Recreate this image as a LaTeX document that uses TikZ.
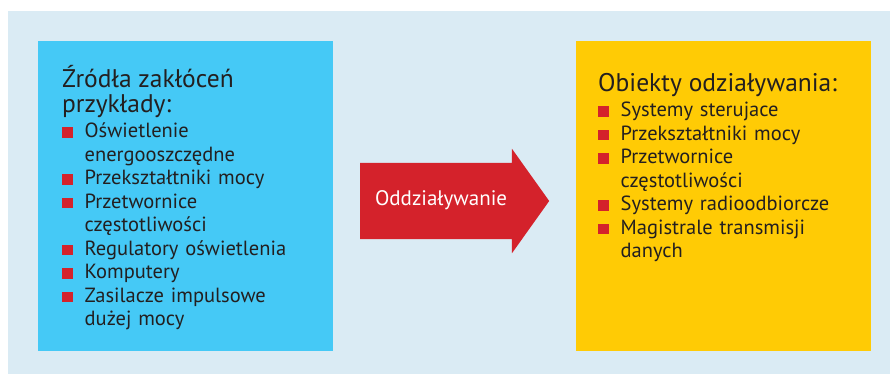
\documentclass[tikz,border=0pt]{standalone}
\usepackage{fontspec}
\setmainfont{PT Sans}
\usetikzlibrary{positioning,shapes.arrows}
\definecolor{panelbg}{HTML}{DAEBF4}
\definecolor{srccyan}{HTML}{45C9F6}
\definecolor{objyellow}{HTML}{FFCB05}
\definecolor{markred}{HTML}{D4222B}
\definecolor{inkgray}{HTML}{231F20}
\newcommand\sqitem[1]{\par\noindent\hangindent=22.5pt\hangafter=1%
  \makebox[22.5pt][l]{\textcolor{markred}{\rule{10.5pt}{10.5pt}}}#1\par}
\newcommand\listhead[1]{{\fontsize{25.5}{25}\selectfont #1\par}\vspace{1.5pt}}

\begin{document}
\begin{tikzpicture}
  [x=1pt,y=-1pt,
   panel/.style={minimum width=295pt,minimum height=310pt,inner sep=0pt,anchor=north west},
   list/.style={text width=268pt,align=left,inner sep=0pt,anchor=base west,
     text=inkgray,font=\fontsize{20.5}{23.5}\selectfont}]

  \useasboundingbox (0,0) rectangle (890,374);
  \fill[panelbg] (8,11) rectangle (890,374);

  \node[panel,fill=srccyan] (src) at (38,41) {};
  \node[panel,fill=objyellow,right=242pt of src] (obj) {};

  \node[single arrow,fill=markred,text=white,font=\fontsize{21}{23}\selectfont,
        text height=13pt,text depth=4pt,inner ysep=29.5pt,inner xsep=0pt,
        minimum height=189pt,single arrow head extend=14pt,single arrow tip angle=109,
        anchor=tail] (act) at (360,201) {Oddziaływanie};

  \node[list] (srclist) at (62,88) {%
    \listhead{Źródła zakłóceń\\przykłady:}%
    \sqitem{Oświetlenie\newline energooszczędne}
    \sqitem{Przekształtniki mocy}
    \sqitem{Przetwornice\newline częstotliwości}
    \sqitem{Regulatory oświetlenia}
    \sqitem{Komputery}
    \sqitem{Zasilacze impulsowe\newline dużej mocy}};

  \node[list] (objlist) at (598,92) {%
    \listhead{Obiekty odziaływania:}%
    \sqitem{Systemy sterujace}
    \sqitem{Przekształtniki mocy}
    \sqitem{Przetwornice\newline częstotliwości}
    \sqitem{Systemy radioodbiorcze}
    \sqitem{Magistrale transmisji\newline danych}};
\end{tikzpicture}
\end{document}
